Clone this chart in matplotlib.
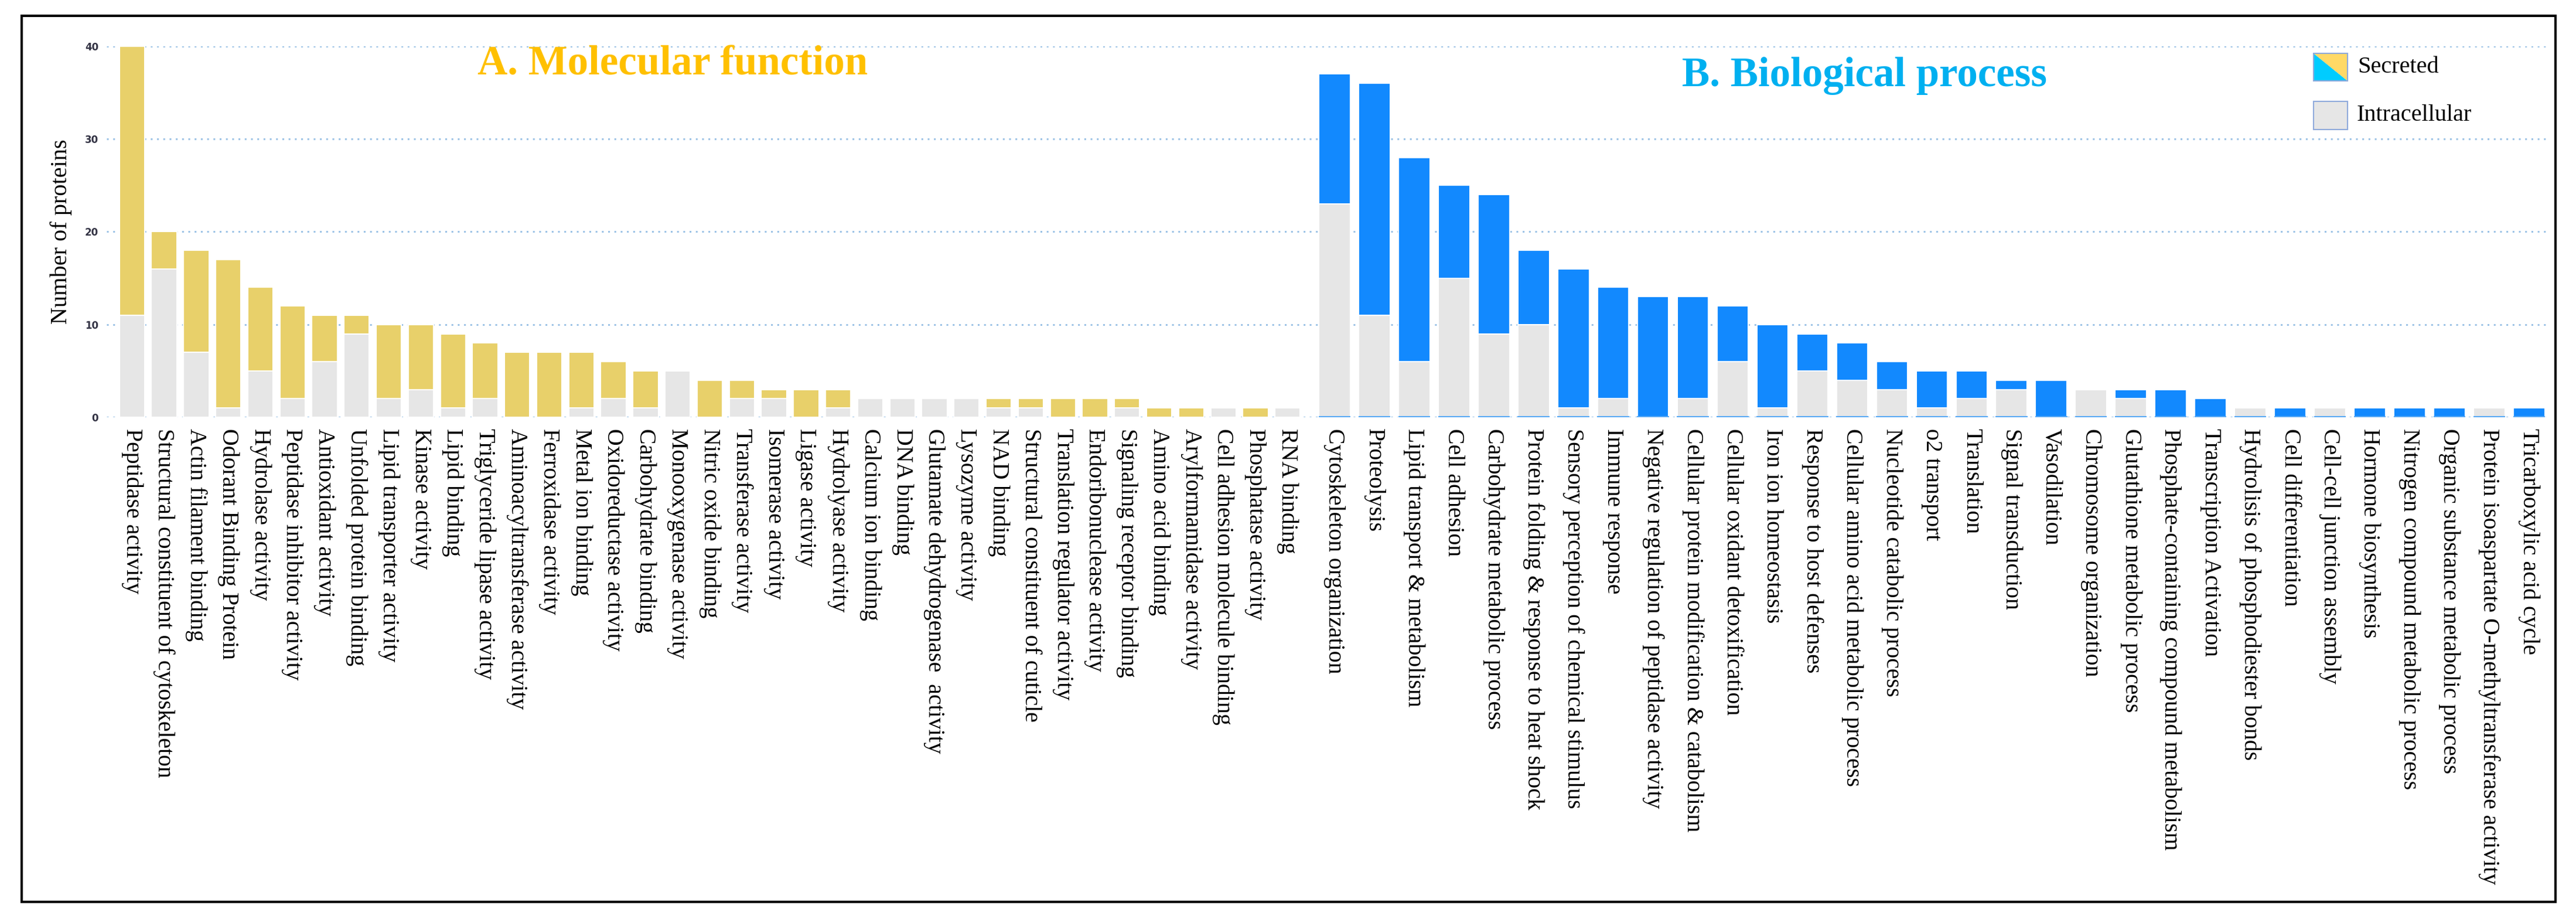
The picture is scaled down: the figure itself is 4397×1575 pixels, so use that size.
import numpy as np
import matplotlib
matplotlib.use("Agg")
import matplotlib.pyplot as plt
from matplotlib.patches import Rectangle, Polygon

# Molecular function
mf_labels = [
    "Peptidase activity", "Structural constituent of cytoskeleton", "Actin filament binding",
    "Odorant Binding Protein", "Hydrolase activity", "Peptidase inhibitor activity",
    "Antioxidant activity", "Unfolded protein binding", "Lipid transporter activity",
    "Kinase activity", "Lipid binding", "Triglyceride lipase activity",
    "Aminoacyltransferase activity", "Ferroxidase activity", "Metal ion binding",
    "Oxidoreductase activity", "Carbohydrate binding", "Monooxygenase activity",
    "Nitric oxide binding", "Transferase activity", "Isomerase activity", "Ligase activity",
    "Hydrolyase activity", "Calcium ion binding", "DNA binding",
    "Glutamate dehydrogenase  activity", "Lysozyme activity", "NAD binding",
    "Structural constituent of cuticle", "Translation regulator activity",
    "Endoribonuclease activity", "Signaling receptor binding", "Amino acid binding",
    "Arylformamidase activity", "Cell adhesion molecule binding", "Phosphatase activity",
    "RNA binding",
]
mf_total = [40, 20, 18, 17, 14, 12, 11, 11, 10, 10, 9, 8, 7, 7, 7, 6, 5, 5, 4, 4, 3, 3, 3,
            2, 2, 2, 2, 2, 2, 2, 2, 2, 1, 1, 1, 1, 1]
mf_intra = [11, 16, 7, 1, 5, 2, 6, 9, 2, 3, 1, 2, 0, 0, 1, 2, 1, 5, 0, 2, 2, 0, 1,
            2, 2, 2, 2, 1, 1, 0, 0, 1, 0, 0, 1, 0, 1]

# Biological process
bp_labels = [
    "Cytoskeleton organization", "Proteolysis", "Lipid transport & metabolism", "Cell adhesion",
    "Carbohydrate metabolic process", "Protein folding & response to heat shock",
    "Sensory perception of chemical stimulus", "Immune response",
    "Negative regulation of peptidase activity", "Cellular protein modification & catabolism",
    "Cellular oxidant detoxification", "Iron ion homeostasis", "Response to host defenses",
    "Cellular amino acid metabolic process", "Nucleotide catabolic process", "o2 transport",
    "Translation", "Signal transduction", "Vasodilation", "Chromosome organization",
    "Glutathione metabolic process", "Phosphate-containing compound metabolism",
    "Transcription Activation", "Hydrolisis of phosphodiester bonds", "Cell differentiation",
    "Cell-cell junction assembly", "Hormone biosynthesis", "Nitrogen compound metabolic process",
    "Organic substance metabolic process", "Protein isoaspartate O-methyltransferase activity",
    "Tricarboxylic acid cycle",
]
bp_total = [37, 36, 28, 25, 24, 18, 16, 14, 13, 13, 12, 10, 9, 8, 6, 5, 5, 4, 4, 3, 3, 3, 2,
            1, 1, 1, 1, 1, 1, 1, 1]
bp_intra = [23, 11, 6, 15, 9, 10, 1, 2, 0, 2, 6, 1, 5, 4, 3, 1, 2, 3, 0, 3, 2, 0, 0,
            1, 0, 1, 0, 0, 0, 1, 0]

W, H = 4397, 1575
YELLOW = "#E8D06A"
BLUE = "#1289FE"
GREY = "#E6E6E6"
GRID = "#9DC3E6"
SERIF = "Liberation Serif"


def fx(px):
    return px / W


def fy(py):
    return 1 - py / H


fig = plt.figure(figsize=(W / 100, H / 100), dpi=100)

y0, y40 = 712, 79
ax_mf = fig.add_axes([fx(182), fy(y0), fx(2235 - 182), (y0 - y40) / H])
ax_bp = fig.add_axes([fx(2235), fy(y0), fx(4353 - 2235), (y0 - y40) / H], sharey=ax_mf)


def draw(ax, labels, total, intra, color, xlim):
    x = np.arange(len(labels))
    intra = np.array(intra)
    secreted = np.array(total) - intra
    ax.bar(x, intra, width=0.79, color=GREY, edgecolor="white", linewidth=1.5, zorder=2)
    ax.bar(x, secreted, bottom=intra, width=0.79, color=color, edgecolor="white",
           linewidth=1.5, zorder=2)
    ax.set_xlim(*xlim)
    ax.set_ylim(0, 40)
    ax.set_yticks([0, 10, 20, 30, 40])
    ax.yaxis.grid(True, linestyle=(0, (1, 2.5)), color=GRID, linewidth=2.2, zorder=0)
    ax.set_axisbelow(True)
    ax.set_xticks(x)
    ax.set_xticklabels(labels, rotation=-90, ha="center", va="top", fontsize=28.7,
                       family=SERIF)
    ax.tick_params(axis="x", length=0, pad=14)
    ax.tick_params(axis="y", length=0)
    for s in ax.spines.values():
        s.set_visible(False)
    return x


draw(ax_mf, mf_labels, mf_total, mf_intra, YELLOW, (-0.79, 36.68))
xb = draw(ax_bp, bp_labels, bp_total, bp_intra, BLUE, (-0.63, 30.53))
ax_bp.hlines(np.zeros(len(xb)), xb - 0.4, xb + 0.4, color="#5AAAF5", linewidth=3, zorder=3)
ax_bp.tick_params(axis="y", labelleft=False)

for lab in ax_mf.get_yticklabels():
    lab.set_fontsize(12)
    lab.set_fontweight("bold")
    lab.set_color("#333344")
ax_mf.tick_params(axis="y", pad=10)
ax_mf.set_ylabel("Number of proteins", fontsize=29, family=SERIF, labelpad=16)

ax_mf.text(fx(815), fy(110), "A. Molecular function", transform=fig.transFigure,
           fontsize=51, fontweight="bold", family=SERIF, color="#FFC000", va="center")
ax_bp.text(fx(2871), fy(130), "B. Biological process", transform=fig.transFigure,
           fontsize=51, fontweight="bold", family=SERIF, color="#00B0F0", va="center")

# legend
lx0, lx1 = 3949, 4007
sy0, sy1 = 91, 138
fig.patches.append(Polygon([(fx(lx0), fy(sy0)), (fx(lx0), fy(sy1)), (fx(lx1), fy(sy1))],
                           closed=True, facecolor="#00CCFF", edgecolor="none",
                           transform=fig.transFigure))
fig.patches.append(Polygon([(fx(lx0), fy(sy0)), (fx(lx1), fy(sy0)), (fx(lx1), fy(sy1))],
                           closed=True, facecolor="#FFD966", edgecolor="none",
                           transform=fig.transFigure))
fig.patches.append(Rectangle((fx(lx0), fy(sy1)), fx(lx1 - lx0), (sy1 - sy0) / H,
                             facecolor="none", edgecolor="#8EA9DB", linewidth=1.5,
                             transform=fig.transFigure))
iy0, iy1 = 173, 221
fig.patches.append(Rectangle((fx(lx0), fy(iy1)), fx(lx1 - lx0), (iy1 - iy0) / H,
                             facecolor=GREY, edgecolor="#8EA9DB", linewidth=1.5,
                             transform=fig.transFigure))
fig.text(fx(4024), fy(114), "Secreted", fontsize=29, family=SERIF, va="center")
fig.text(fx(4022), fy(197), "Intracellular", fontsize=29, family=SERIF, va="center")

# outer frame
fig.patches.append(Rectangle((fx(37), fy(1539)), fx(4362 - 37), (1539 - 27) / H,
                             facecolor="none", edgecolor="black", linewidth=3,
                             transform=fig.transFigure))

fig.savefig("out.png", dpi=100, facecolor="white")
